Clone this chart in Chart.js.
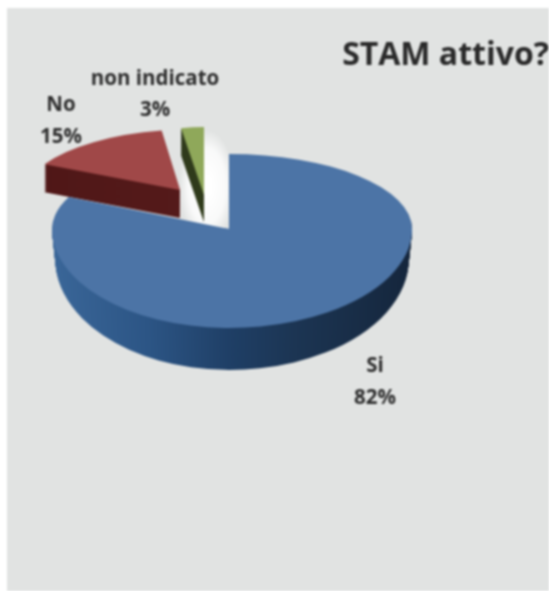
<!DOCTYPE html>
<html><head><meta charset="utf-8">
<style>html,body{margin:0;padding:0;background:#fff;overflow:hidden}
#w{width:549px;height:591px;position:relative}
canvas{display:block;filter:blur(0.9px)}</style>
<script src="https://cdn.jsdelivr.net/npm/chart.js@4"></script></head>
<body><div id="w"><canvas id="c" width="549" height="591"></canvas></div>
<script>
const categories = ['Si', 'No', 'non indicato'];
const values = [82, 15, 3];
const titleText = 'STAM attivo?';

const topColors = ['#4c74a6', '#a04848', '#8fa85a'];
const wallStops = [
  [[0,'#3a6698'],[0.27,'#2c5585'],[0.5,'#1f3f66'],[0.68,'#1c3553'],[1,'#15263c']],
  [[0,'#4f1717'],[1,'#5a1d1d']],
  [[0,'#2a3418'],[1,'#36421f']]
];
// pseudo-3D projection of each slice: apex, x/y squash, skew, wall depth, wall growth
const views = [
  {ax:229, ay:229, left:.983, right:1.017, up:.417, down:.55, skew:0, depth:30, growY:.0022, shrinkX:.0006},
  {ax:180, ay:190, left:.86, right:.86, up:.336, down:.336, skew:-.06, depth:28, growY:0, shrinkX:0},
  {ax:204, ay:195, left:.68, right:.68, up:.378, down:.378, skew:0, depth:27, growY:0, shrinkX:0}
];
const labelSpots = [
  {x:375, y:366, py:398},
  {x:61,  y:105, py:137},
  {x:155, y:79,  py:110}
];
const PANEL = '#e1e3e2';

function paint(ctx, arc, v, k, fill, W, H) {
  const saved = arc.options;
  arc.options = Object.assign({}, saved, {backgroundColor: fill, borderWidth: 0});
  const split = v.up !== v.down;
  const rows = split ? [[v.up, 0, v.ay + k + .5], [v.down + k * v.growY, v.ay + k - .5, H]] : [[v.up, 0, H]];
  const cols = split ? [[v.left - k * v.shrinkX, 0, v.ax + .5], [v.right - k * v.shrinkX, v.ax - .5, W]] : [[v.left, 0, W]];
  for (const [sy, y0, y1] of rows) for (const [sx, x0, x1] of cols) {
    ctx.save();
    ctx.beginPath();
    ctx.rect(x0, y0, x1 - x0, y1 - y0);
    ctx.clip();
    ctx.translate(v.ax, v.ay + k);
    ctx.transform(sx, 0, v.skew, sy, 0, 0);
    ctx.translate(-arc.x, -arc.y);
    arc.draw(ctx);
    ctx.restore();
  }
  arc.options = saved;
}

const pie3d = {
  id: 'pie3d',
  beforeDraw(chart) {
    const {ctx, width, height} = chart;
    ctx.save();
    ctx.fillStyle = '#fff';
    ctx.fillRect(0, 0, width, height);
    ctx.fillStyle = PANEL;
    ctx.fillRect(7, 8, width - 7, height - 8);
    ctx.restore();
  },
  beforeDatasetsDraw(chart) {
    const {ctx, width, height} = chart;
    ctx.save();
    // pale halo inside the notch
    ctx.translate(207, 186);
    ctx.scale(.5, 1);
    const g = ctx.createRadialGradient(0, 0, 10, 0, 0, 56);
    g.addColorStop(0, 'rgba(255,255,255,1)');
    g.addColorStop(.6, 'rgba(255,255,255,.8)');
    g.addColorStop(1, 'rgba(255,255,255,0)');
    ctx.fillStyle = g;
    ctx.beginPath();
    ctx.arc(0, 0, 56, 0, Math.PI * 2);
    ctx.fill();
    ctx.restore();

    const arcs = chart.getDatasetMeta(0).data;
    [2, 1, 0].forEach(i => {
      const arc = arcs[i], v = views[i];
      const r = arc.outerRadius;
      const wall = ctx.createLinearGradient(arc.x - r, 0, arc.x + r, 0);
      wallStops[i].forEach(s => wall.addColorStop(s[0], s[1]));
      for (let k = v.depth; k >= 1; k--) paint(ctx, arc, v, k, wall, width, height);
      paint(ctx, arc, v, 0, topColors[i], width, height);
    });
    return false;
  },
  afterDraw(chart) {
    const {ctx} = chart;
    ctx.save();
    ctx.fillStyle = '#2e2e2e';
    ctx.font = 'bold 20.5px "Open Sans"';
    ctx.textAlign = 'center';
    ctx.textBaseline = 'middle';
    categories.forEach((c, i) => {
      const s = labelSpots[i];
      ctx.fillText(c, s.x, s.y);
      ctx.fillText(values[i] + '%', s.x, s.py);
    });
    ctx.restore();
  }
};

new Chart(document.getElementById('c'), {
  type: 'pie',
  data: {labels: categories, datasets: [{data: values, backgroundColor: topColors, borderWidth: 0}]},
  options: {
    responsive: false,
    animation: false,
    radius: 180,
    layout: {padding: 0},
    plugins: {
      legend: {display: false},
      tooltip: {enabled: false},
      title: {display: true, text: titleText, align: 'end', color: '#2a2a2a',
        font: {family: 'Open Sans', size: 32, weight: 'bold'}, padding: {top: 37, bottom: 0}}
    }
  },
  plugins: [pie3d]
});
</script></body></html>
